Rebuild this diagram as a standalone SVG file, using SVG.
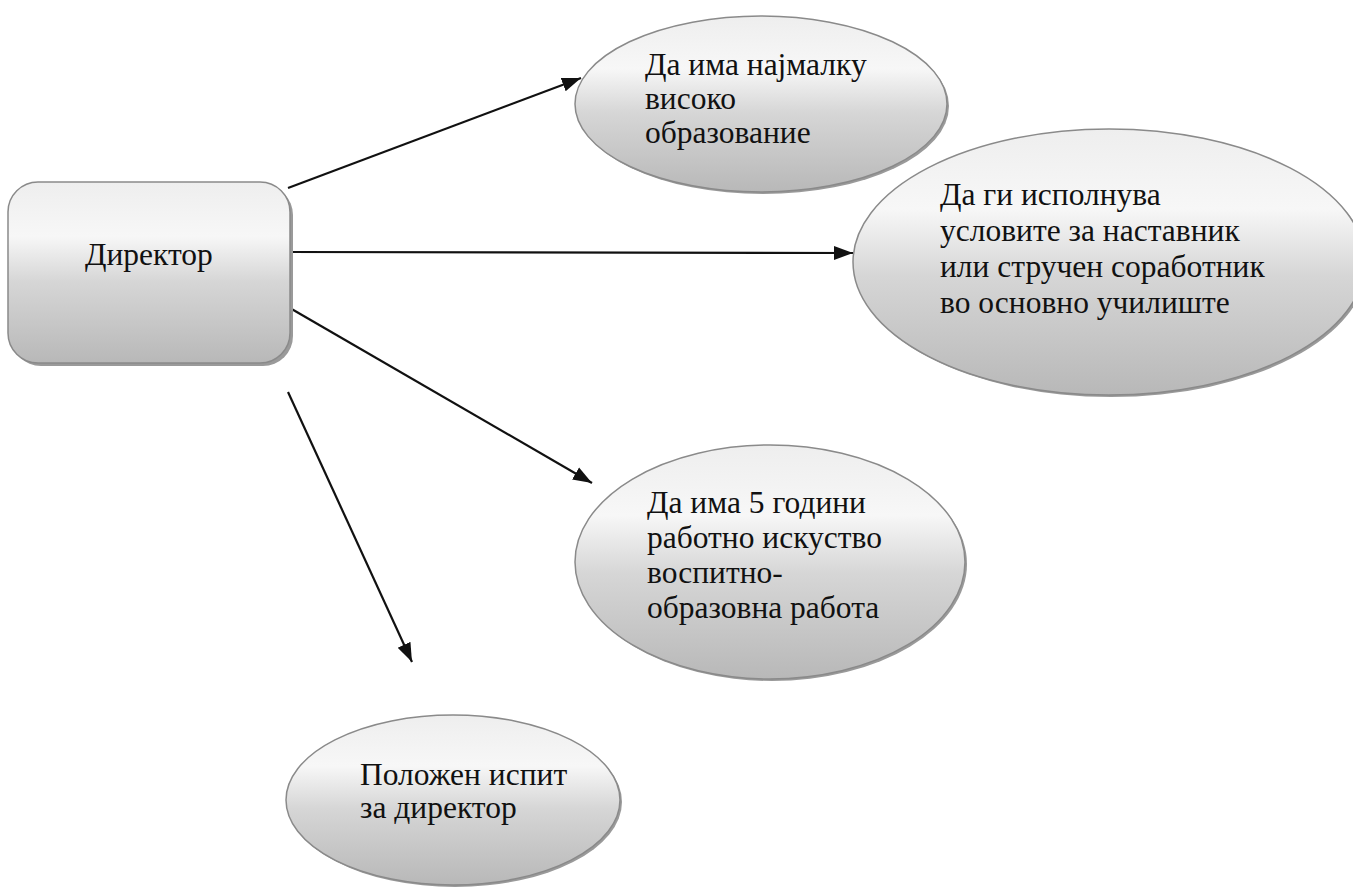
<svg xmlns="http://www.w3.org/2000/svg" width="1353" height="887" viewBox="0 0 1353 887">
<defs>
<linearGradient id="g" x1="0" y1="0" x2="0" y2="1">
<stop offset="0" stop-color="#eeeeee"/>
<stop offset="0.3" stop-color="#f7f7f7"/>
<stop offset="0.55" stop-color="#d6d6d6"/>
<stop offset="1" stop-color="#b8b8b8"/>
</linearGradient>
<marker id="arr" markerUnits="userSpaceOnUse" markerWidth="22" markerHeight="16" refX="19" refY="8" orient="auto">
<path d="M0,1 L19,8 L0,15 Z" fill="#111"/>
</marker>
</defs>
<style>
.shape{fill:url(#g);stroke:#8a8a8a;stroke-width:1.5}
.shadow{fill:#9a9a9a}
.t{font-family:"Liberation Serif","Times New Roman",serif;font-size:31.5px;fill:#111}
.c{stroke:#111;stroke-width:2.2;fill:none;marker-end:url(#arr)}
</style>
<rect width="1353" height="887" fill="#fff"/>
<g id="connectors">
<line class="c" x1="288" y1="188" x2="581" y2="78"/>
<line class="c" x1="289" y1="252" x2="853" y2="253"/>
<line class="c" x1="283" y1="304" x2="592" y2="483"/>
<line class="c" x1="288" y1="392" x2="412" y2="662"/>
</g>
<g id="director">
<rect class="shadow" x="11" y="185" width="282" height="181" rx="30"/>
<rect class="shape" x="8" y="182" width="282" height="181" rx="30"/>
<text class="t" x="85" y="265">Директор</text>
</g>
<g id="req1">
<ellipse class="shadow" cx="763" cy="106" rx="186" ry="88"/>
<ellipse class="shape" cx="761" cy="104" rx="186" ry="88"/>
<text class="t" x="645" y="75">Да има најмалку</text>
<text class="t" x="645" y="109">високо</text>
<text class="t" x="645" y="143">образование</text>
</g>
<g id="req2">
<ellipse class="shadow" cx="1111" cy="264" rx="256" ry="133"/>
<ellipse class="shape" cx="1109" cy="262" rx="256" ry="133"/>
<text class="t" x="940" y="205">Да ги исполнува</text>
<text class="t" x="940" y="241">условите за наставник</text>
<text class="t" x="940" y="277">или стручен соработник</text>
<text class="t" x="940" y="313">во основно училиште</text>
</g>
<g id="req3">
<ellipse class="shadow" cx="772" cy="564" rx="195" ry="117"/>
<ellipse class="shape" cx="770" cy="562" rx="195" ry="117"/>
<text class="t" x="647" y="513">Да има 5 години</text>
<text class="t" x="647" y="548">работно искуство</text>
<text class="t" x="647" y="583">воспитно-</text>
<text class="t" x="647" y="618">образовна работа</text>
</g>
<g id="req4">
<ellipse class="shadow" cx="455" cy="802" rx="167" ry="85"/>
<ellipse class="shape" cx="453" cy="800" rx="167" ry="85"/>
<text class="t" x="360" y="785">Положен испит</text>
<text class="t" x="360" y="818">за директор</text>
</g>
</svg>
